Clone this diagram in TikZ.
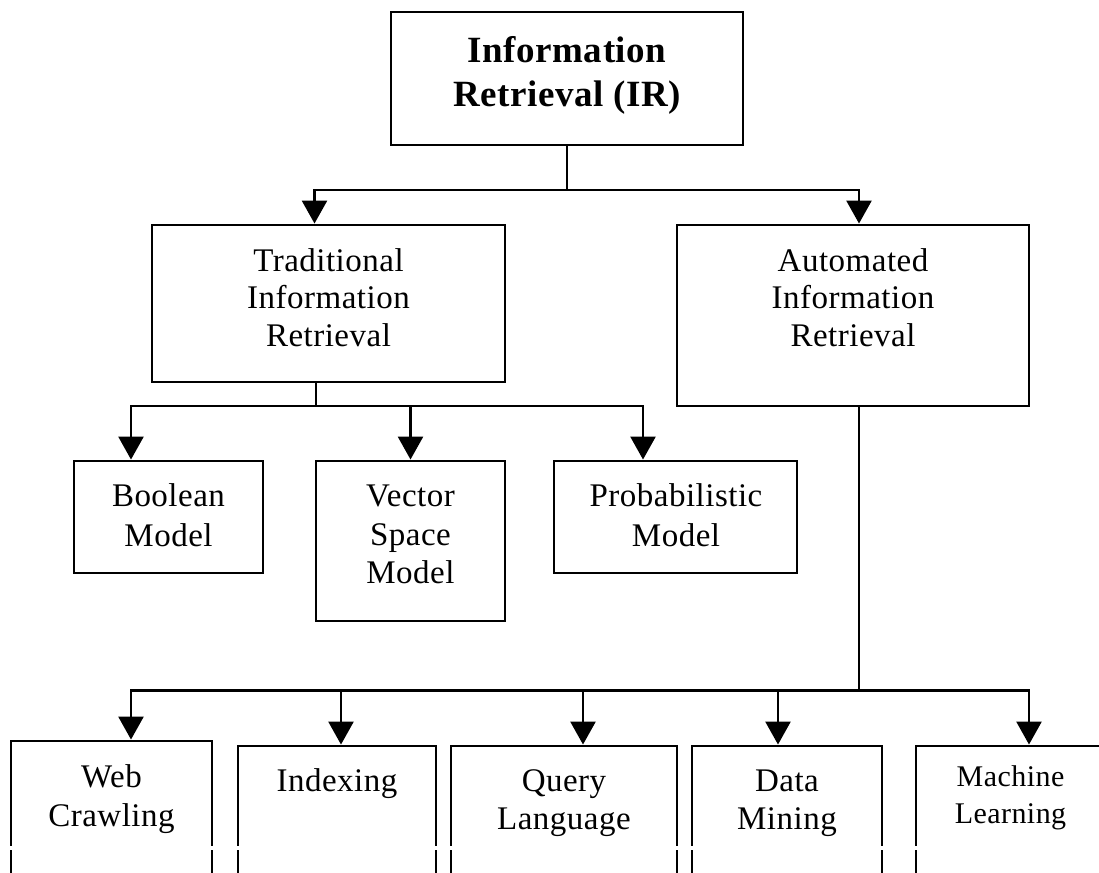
\documentclass[tikz,border=0pt]{standalone}
\usepackage{fontspec}
\setmainfont[LetterSpace=1.5]{Liberation Serif}
\usetikzlibrary{arrows.meta,calc}
\begin{document}
\begin{tikzpicture}[x=1pt,y=-1pt,
  box/.style={draw,line width=2.9pt,inner sep=0pt,fill=none},
  lbl/.style={align=center,inner sep=0pt,anchor=north,font=\fontsize{33}{38}\selectfont},
  conn/.style={line width=2.6pt},
  arr/.style={conn,-{Triangle[width=25pt,length=23pt]}}]
\useasboundingbox (0,0) rectangle (1099,872);
\clip (0,0) rectangle (1099,872);
% boxes
\node[box,minimum width=352,minimum height=133] (ir) at (567,78.5) {};
\node[box,minimum width=353,minimum height=157] (trad) at (328.5,303.5) {};
\node[box,minimum width=352,minimum height=181] (auto) at (853,315.5) {};
\node[box,minimum width=189,minimum height=112] (bool) at (168.5,517) {};
\node[box,minimum width=189,minimum height=160] (vec) at (410.5,541) {};
\node[box,minimum width=243,minimum height=112] (prob) at (675.5,517) {};
\node[box,minimum width=201,minimum height=159] (web) at (111.5,820.5) {};
\node[box,minimum width=198,minimum height=154] (idx) at (337,823) {};
\node[box,minimum width=226,minimum height=154] (qry) at (564,823) {};
\node[box,minimum width=190,minimum height=154] (dm) at (787,823) {};
\node[box,minimum width=188,minimum height=154] (ml) at (1010,823) {};
% labels
\node[lbl,font=\bfseries\fontsize{37}{44}\selectfont] (irT) at (567,34) {\rule{0pt}{28pt}Information\\Retrieval (IR)};
\node[lbl,font=\fontsize{33}{37.5}\selectfont] (tradT) at (328.5,243) {\rule{0pt}{28pt}Traditional\\Information\\Retrieval};
\node[lbl,font=\fontsize{33}{37.5}\selectfont] (autoT) at (853,243) {\rule{0pt}{28pt}Automated\\Information\\Retrieval};
\node[lbl,font=\fontsize{33}{40}\selectfont] (boolT) at (168.5,478.7) {\rule{0pt}{28pt}Boolean\\Model};
\node[lbl,font=\fontsize{33}{38.3}\selectfont] (vecT) at (410.5,478.7) {\rule{0pt}{28pt}Vector\\Space\\Model};
\node[lbl,font=\fontsize{33}{40}\selectfont] (probT) at (676,478.7) {\rule{0pt}{28pt}Probabilistic\\Model};
\node[lbl,font=\fontsize{33}{39}\selectfont] (webT) at (111.5,759) {\rule{0pt}{28pt}Web\\Crawling};
\node[lbl] (idxT) at (337,763.7) {\rule{0pt}{28pt}Indexing};
\node[lbl,font=\fontsize{33}{37.5}\selectfont] (qryT) at (564,763.7) {\rule{0pt}{28pt}Query\\Language};
\node[lbl,font=\fontsize{33}{37.5}\selectfont] (dmT) at (787,763.7) {\rule{0pt}{28pt}Data\\Mining};
\node[lbl,font=\fontsize{30}{36.6}\selectfont] (mlT) at (1010.5,758.7) {\rule{0pt}{28pt}Machine\\Learning};
% connectors
\coordinate (j1) at (567,190);
\draw[conn] (ir.south) -- (j1);
\draw[arr] (j1) -| ([xshift=-14pt]trad.north);
\draw[arr] (j1) -| ([xshift=6pt]auto.north);
\coordinate (j2) at (316,406);
\draw[conn] (trad.south -| j2) -- (j2);
\draw[arr] (j2) -| ([xshift=-37.5pt]bool.north);
\draw[arr] (j2) -| (vec.north);
\draw[arr] (j2) -| ([xshift=-32.5pt]prob.north);
\coordinate (j3) at (859,690.7);
\draw[conn] ([xshift=6pt]auto.south) -- (j3);
\draw[arr] (j3) -| ([xshift=19.5pt]web.north);
\draw[arr] (j3) -| ([xshift=4pt]idx.north);
\draw[arr] (j3) -| ([xshift=19pt]qry.north);
\draw[arr] (j3) -| ([xshift=-9pt]dm.north);
\draw[arr] (j3) -| ([xshift=19pt]ml.north);
% thin white band across the bottom
\fill[white] (0,846) rectangle (1099,850);
\end{tikzpicture}
\end{document}
